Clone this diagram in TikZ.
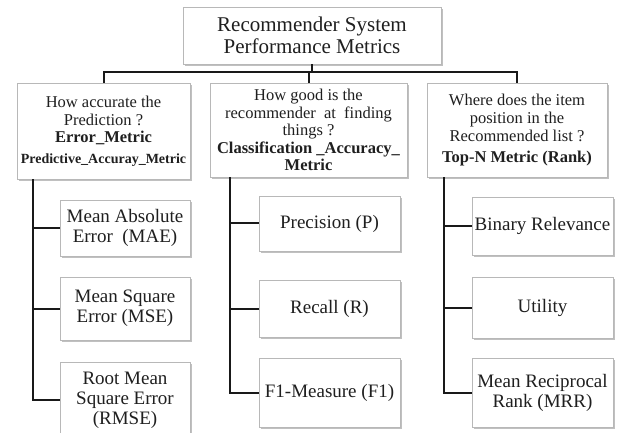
\documentclass[tikz,border=0pt]{standalone}
\usepackage{fontspec}
\setmainfont{Liberation Serif}
\usetikzlibrary{shadows}

\tikzset{
  box/.style={draw=black!28, line width=0.8bp, fill=white, align=center,
    inner sep=1bp, text=black!88,
    drop shadow={shadow xshift=1.6bp, shadow yshift=-1.6bp, opacity=0.45, fill=black!55}},
  titlebox/.style={box, font=\fontsize{21bp}{22bp}\selectfont},
  catbox/.style={box, font=\fontsize{16.5bp}{18bp}\selectfont},
  leafbox/.style={box, font=\fontsize{19bp}{20bp}\selectfont},
  link/.style={line width=2bp, black!90}
}

\begin{document}
\begin{tikzpicture}[x=1bp, y=-1bp]
\clip (0,0) rectangle (624,433);
\useasboundingbox (0,0) rectangle (624,433);

% root
\node[titlebox, minimum width=258bp, minimum height=57bp] (top) at (312,35.5)
  {Recommender System\\Performance Metrics};

% three metric families
\node[catbox, minimum width=173bp, minimum height=96bp] (L) at (103.5,131)
  {How accurate the\\Prediction ?\\[-1bp]\textbf{Error\_Metric}\\[3bp]
   {\fontsize{14bp}{16bp}\selectfont\textbf{Predictive\_Accuray\_Metric}}};
\node[catbox, minimum width=197bp, minimum height=94bp, font=\fontsize{16.5bp}{17.5bp}\selectfont] (M) at (308.5,130)
  {How good is the\\recommender\ \ at\ \ finding\\things ?\\\textbf{Classification \_Accuracy\_}\\\textbf{Metric}};
\node[catbox, minimum width=180bp, minimum height=94bp] (R) at (517,130)
  {Where does the item\\position in the\\Recommended list ?\\[3bp]\textbf{Top-N Metric (Rank)}};

% error metrics
\node[leafbox, minimum width=130bp, minimum height=56bp] (l1) at (125,228) {Mean Absolute\\Error\ \ (MAE)};
\node[leafbox, minimum width=130bp, minimum height=63bp] (l2) at (125,308.5) {Mean Square\\Error (MSE)};
\node[leafbox, minimum width=130bp, minimum height=76bp] (l3) at (125,400) {Root Mean\\Square Error\\(RMSE)};

% classification metrics
\node[leafbox, minimum width=141bp, minimum height=55bp] (m1) at (329.5,223.5) {Precision (P)};
\node[leafbox, minimum width=141bp, minimum height=57bp] (m2) at (329.5,308.5) {Recall (R)};
\node[leafbox, minimum width=141bp, minimum height=69bp] (m3) at (329.5,392.5) {F1-Measure (F1)};

% rank metrics
\node[leafbox, minimum width=141bp, minimum height=58bp] (r1) at (542.5,226) {Binary Relevance};
\node[leafbox, minimum width=141bp, minimum height=61bp] (r2) at (542.5,307.5) {Utility};
\node[leafbox, minimum width=141bp, minimum height=69bp] (r3) at (542.5,392.5) {Mean Reciprocal\\Rank (MRR)};

% connectors from the root
\coordinate (bar) at (0,72);
\draw[link] (top.south) -- (top.south |- bar);
\draw[link] (L.north) -- (L.north |- bar) -- (R.north |- bar) -- (R.north);
\draw[link] (M.north) -- (M.north |- bar);

% connectors to the individual metrics
\coordinate (lx) at (33,0);
\coordinate (mx) at (230,0);
\coordinate (rx) at (444,0);
\foreach \c in {l1,l2,l3} \draw[link] (L.south -| lx) |- (\c.west);
\foreach \c in {m1,m2,m3} \draw[link] (M.south -| mx) |- (\c.west);
\foreach \c in {r1,r2,r3} \draw[link] (R.south -| rx) |- (\c.west);
\end{tikzpicture}
\end{document}
